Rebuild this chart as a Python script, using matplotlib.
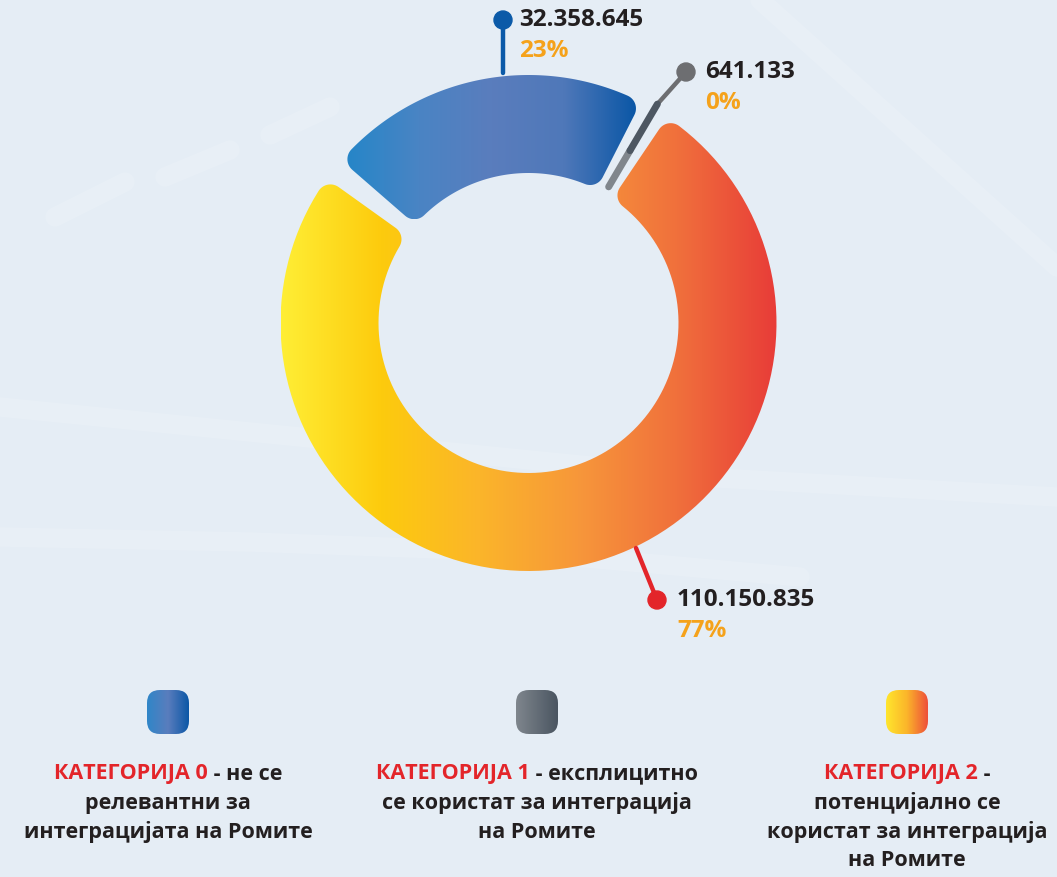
import numpy as np
import matplotlib.pyplot as plt
from matplotlib.patches import PathPatch, Circle, FancyBboxPatch
from matplotlib.path import Path
from matplotlib.colors import LinearSegmentedColormap

# data
categories = ['КАТЕГОРИЈА 0', 'КАТЕГОРИЈА 1', 'КАТЕГОРИЈА 2']
values = [32358645, 641133, 110150835]
descriptions = [
    [' - не се', 'релевантни за', 'интеграцијата на Ромите'],
    [' - експлицитно', 'се користат за интеграција', 'на Ромите'],
    [' -', 'потенцијално се', 'користат за интеграција', 'на Ромите'],
]

total = sum(values)
value_labels = [f'{v:,}'.replace(',', '.') for v in values]
pct_labels = [f'{round(v / total * 100)}%' for v in values]

# colours
blue_grad = ['#2686c8', '#4a84c4', '#5a7dbd', '#4f78b9', '#0b57a6']
gray_grad = ['#7f868d', '#4a5561']
warm_grad = ['#ffee35', '#fdcb0d', '#fbb52a', '#f7973a', '#f0703c', '#e83c38']
lead_colors = ['#0b5aa8', '#6d6e71', '#e3252a']
BG = '#e5edf5'
DARK = '#231f20'
ORANGE = '#f5a21b'
RED = '#e3252a'
FONT = ['Open Sans', 'DejaVu Sans']

W, H = 1057, 877
fig = plt.figure(figsize=(W / 100, H / 100), dpi=100)
fig.patch.set_facecolor(BG)
ax = fig.add_axes([0, 0, 1, 1])
ax.set_facecolor(BG)

# faint background streaks
for xs, ys in [([0, 300, 700, 1057], [470, 440, 400, 380]),
               ([0, 250, 520, 800], [340, 335, 325, 300]),
               ([760, 1057], [877, 610]),
               ([55, 125], [660, 695]), ([165, 230], [700, 727]),
               ([270, 330], [742, 770])]:
    ax.plot(xs, ys, color='white', alpha=0.12, lw=14, solid_capstyle='round', zorder=0)

cx, cy = 528.5, H - 323
R_out, R_in = 248, 150
gap = 2.7
corner = 14

wedges, _ = ax.pie(values, startangle=141.7, counterclock=False, radius=R_out,
                   center=(cx, cy), wedgeprops=dict(width=R_out - R_in, alpha=0))


def pol(r, a):
    return np.array([cx + r * np.cos(a), cy + r * np.sin(a)])


def small_arc(center, p0, p1, c, m=14):
    s = np.arctan2(p0[1] - center[1], p0[0] - center[0])
    e = np.arctan2(p1[1] - center[1], p1[0] - center[0])
    d = (e - s + np.pi) % (2 * np.pi) - np.pi
    t = s + d * np.linspace(0, 1, m)
    return np.column_stack([center[0] + c * np.cos(t), center[1] + c * np.sin(t)])


def rounded_sector(a_lo, a_hi, r_in, r_out, c, n=120):
    a_lo, a_hi = np.radians(a_lo), np.radians(a_hi)
    do = np.arcsin(c / (r_out - c))
    di = np.arcsin(c / (r_in + c))
    lo_o = np.sqrt((r_out - c) ** 2 - c ** 2)
    lo_i = np.sqrt((r_in + c) ** 2 - c ** 2)
    pts = []
    pts.append(small_arc(pol(r_out - c, a_lo + do), pol(lo_o, a_lo), pol(r_out, a_lo + do), c))
    t = np.linspace(a_lo + do, a_hi - do, n)
    pts.append(np.column_stack([cx + r_out * np.cos(t), cy + r_out * np.sin(t)]))
    pts.append(small_arc(pol(r_out - c, a_hi - do), pol(r_out, a_hi - do), pol(lo_o, a_hi), c))
    pts.append(small_arc(pol(r_in + c, a_hi - di), pol(lo_i, a_hi), pol(r_in, a_hi - di), c))
    t = np.linspace(a_hi - di, a_lo + di, n)
    pts.append(np.column_stack([cx + r_in * np.cos(t), cy + r_in * np.sin(t)]))
    pts.append(small_arc(pol(r_in + c, a_lo + di), pol(r_in, a_lo + di), pol(lo_i, a_lo), c))
    v = np.vstack(pts)
    return Path(np.vstack([v, v[:1]]), closed=True)


def grad_fill(patch, colors, z=2):
    ax.add_patch(patch)
    bb = patch.get_path().get_extents(patch.get_patch_transform())
    cmap = LinearSegmentedColormap.from_list('g', colors)
    g = np.linspace(0, 1, 256)[None, :]
    im = ax.imshow(g, cmap=cmap, extent=[bb.x0, bb.x1, bb.y0, bb.y1], aspect='auto',
                   interpolation='bilinear', origin='lower', zorder=z)
    im.set_clip_path(patch)


# blue and warm segments
for i in (0, 2):
    w = wedges[i]
    path = rounded_sector(w.theta1 + gap, w.theta2 - gap, R_in, R_out, corner)
    patch = PathPatch(path, fc='none', ec='none', transform=ax.transData)
    grad_fill(patch, blue_grad if i == 0 else warm_grad)

# thin gray segment
gw = wedges[1]
ga = np.radians((gw.theta1 + gw.theta2) / 2)
p0, p1 = pol(R_in + 8, ga), pol(R_in + 50, ga)
p2 = pol(R_out + 6, ga)
ax.plot([p0[0], p1[0]], [p0[1], p1[1]], color='#80868c', lw=5, solid_capstyle='round', zorder=3)
ax.plot([p1[0], p2[0]], [p1[1], p2[1]], color='#4d5762', lw=5, solid_capstyle='round', zorder=3)

# leader lines, dots and labels (pixel layout, y measured from top)
leaders = [((503, 73), (503, 20)),
           ((p2[0], H - p2[1]), (686, 72)),
           ((636, 548), (657, 600))]
text_dx = [16, 19, 20]
for i, ((sx, sy), (ex, ey)) in enumerate(leaders):
    ax.plot([sx, ex], [H - sy, H - ey], color=lead_colors[i], lw=3.2,
            solid_capstyle='round', zorder=4 if i != 1 else 2.5)
    ax.add_patch(Circle((ex, H - ey), 9, color=lead_colors[i], zorder=5))
    ax.text(ex + text_dx[i], H - ey, value_labels[i], fontsize=17.5, fontweight='bold',
            color=DARK, family=FONT, ha='left', va='center', zorder=6)
    ax.text(ex + text_dx[i], H - ey - 31, pct_labels[i], fontsize=17.5, fontweight='bold',
            color=ORANGE, family=FONT, ha='left', va='center', zorder=6)

# legend
leg_x = [168, 537, 907]
leg_grads = [['#2f86c8', '#5a7dbd', '#0b57a6'], gray_grad, ['#ffe62d', '#fbb52a', '#ee4f3a']]
renderer = fig.canvas.get_renderer()
fs = 15.5
for i, xc in enumerate(leg_x):
    sq = FancyBboxPatch((xc - 21, H - 734), 42, 44, boxstyle='round,pad=0,rounding_size=13',
                        fc='none', ec='none', transform=ax.transData)
    grad_fill(sq, leg_grads[i])
    lines = descriptions[i]
    y0 = 774
    t1 = ax.text(0, H - y0, categories[i], fontsize=fs, fontweight='bold', color=RED,
                 family=FONT, ha='left', va='center')
    t2 = ax.text(0, H - y0, lines[0], fontsize=fs, fontweight='bold', color=DARK,
                 family=FONT, ha='left', va='center')
    w1 = t1.get_window_extent(renderer).width
    w2 = t2.get_window_extent(renderer).width
    xs = xc - (w1 + w2) / 2
    t1.set_x(xs)
    t2.set_x(xs + w1)
    for k, ln in enumerate(lines[1:]):
        ax.text(xc, H - y0 - 29 * (k + 1), ln, fontsize=fs, fontweight='bold', color=DARK,
                family=FONT, ha='center', va='center')

ax.set_xlim(0, W)
ax.set_ylim(0, H)
ax.set_aspect('equal')
ax.axis('off')

fig.savefig('out.png', dpi=100, facecolor=BG)
